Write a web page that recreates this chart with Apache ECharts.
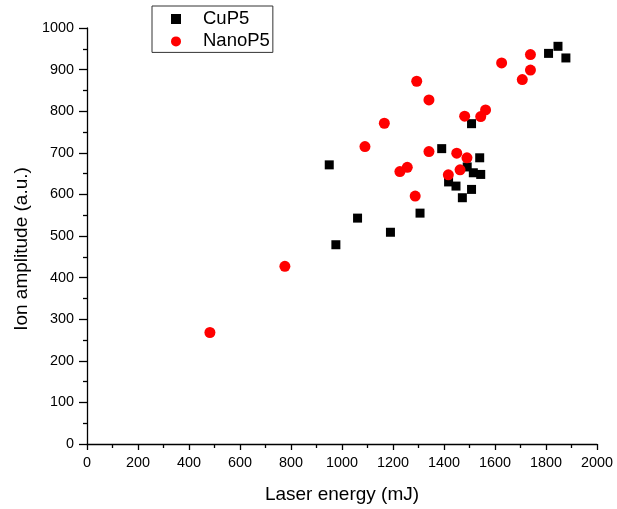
<!DOCTYPE html>
<html>
<head>
<meta charset="utf-8">
<script src="https://cdn.jsdelivr.net/npm/echarts@6/dist/echarts.min.js"></script>
<style>
html,body{margin:0;padding:0;background:#fff;}
#chart{width:617px;height:509px;}
</style>
</head>
<body>
<div id="chart"></div>
<script>
const cuP5X = [1847, 1810, 1878, 1508, 1391, 950, 1540, 1491, 1515, 1544, 1418, 1447, 1508, 1472, 1306, 1061, 1190, 976];
const cuP5Y = [956, 939, 928, 770, 710, 671, 688, 666, 652, 648, 630, 620, 612, 592, 555, 543, 509, 479];
const nanoP5X = [1739, 1626, 1739, 1707, 1293, 1341, 1563, 1544, 1481, 1166, 1090, 1341, 1450, 1490, 1256, 1227, 1463, 1417, 1287, 776, 482];
const nanoP5Y = [936, 916, 899, 876, 872, 827, 803, 787, 788, 771, 715, 703, 699, 688, 665, 655, 659, 647, 596, 427, 268];
const xTicks = [0, 200, 400, 600, 800, 1000, 1200, 1400, 1600, 1800, 2000];
const yTicks = [0, 100, 200, 300, 400, 500, 600, 700, 800, 900, 1000];

const font = 'Liberation Sans, Arial, sans-serif';
const chart = echarts.init(document.getElementById('chart'), null, {renderer: 'canvas'});
function axisCommon(ticks, tickLen, margin) {
  return {
    min: ticks[0], max: ticks[ticks.length - 1], interval: ticks[1] - ticks[0],
    axisLine: {show: true, onZero: false, lineStyle: {color: '#000', width: 1.3}},
    axisTick: {show: true, inside: false, length: tickLen, lineStyle: {color: '#000', width: 1.3}},
    minorTick: {show: true, splitNumber: 2, length: 4, lineStyle: {color: '#000', width: 1.3}},
    splitLine: {show: false},
    minorSplitLine: {show: false},
    axisLabel: {color: '#000', fontFamily: font, fontSize: 14.4, margin: margin, formatter: v => String(v)},
    nameTextStyle: {color: '#000', fontFamily: font, fontSize: 19},
    nameLocation: 'middle'
  };
}
chart.setOption({
  backgroundColor: '#fff',
  animation: false,
  grid: {left: 87, right: 20, top: 28, bottom: 65, containLabel: false},
  legend: {
    orient: 'vertical', left: 152, top: 6,
    borderColor: '#333', borderWidth: 1, borderRadius: 0, padding: [3, 3, 1, 19],
    itemGap: 2.4, itemWidth: 10, itemHeight: 10,
    textStyle: {color: '#000', fontFamily: font, fontSize: 18.5, lineHeight: 20, padding: [0, 0, 0, 17]},
    data: [{name: 'CuP5', icon: 'rect'}, {name: 'NanoP5', icon: 'circle'}]
  },
  xAxis: Object.assign(axisCommon(xTicks, 6, 12), {type: 'value', name: 'Laser energy (mJ)', nameGap: 41}),
  yAxis: Object.assign(axisCommon(yTicks, 8, 13), {type: 'value', name: 'Ion amplitude (a.u.)', nameGap: 55,
    nameTextStyle: {color: '#000', fontFamily: font, fontSize: 19, padding: [0, 26, 0, 0]}}),
  series: [
    {
      name: 'CuP5', type: 'scatter', symbol: 'rect', symbolSize: 9,
      itemStyle: {color: '#000', opacity: 1},
      data: cuP5X.map((x, i) => [x, cuP5Y[i]]), z: 2
    },
    {
      name: 'NanoP5', type: 'scatter', symbol: 'circle', symbolSize: 11,
      itemStyle: {color: '#ff0000', opacity: 1},
      data: nanoP5X.map((x, i) => [x, nanoP5Y[i]]), z: 3
    }
  ]
});
</script>
</body>
</html>
